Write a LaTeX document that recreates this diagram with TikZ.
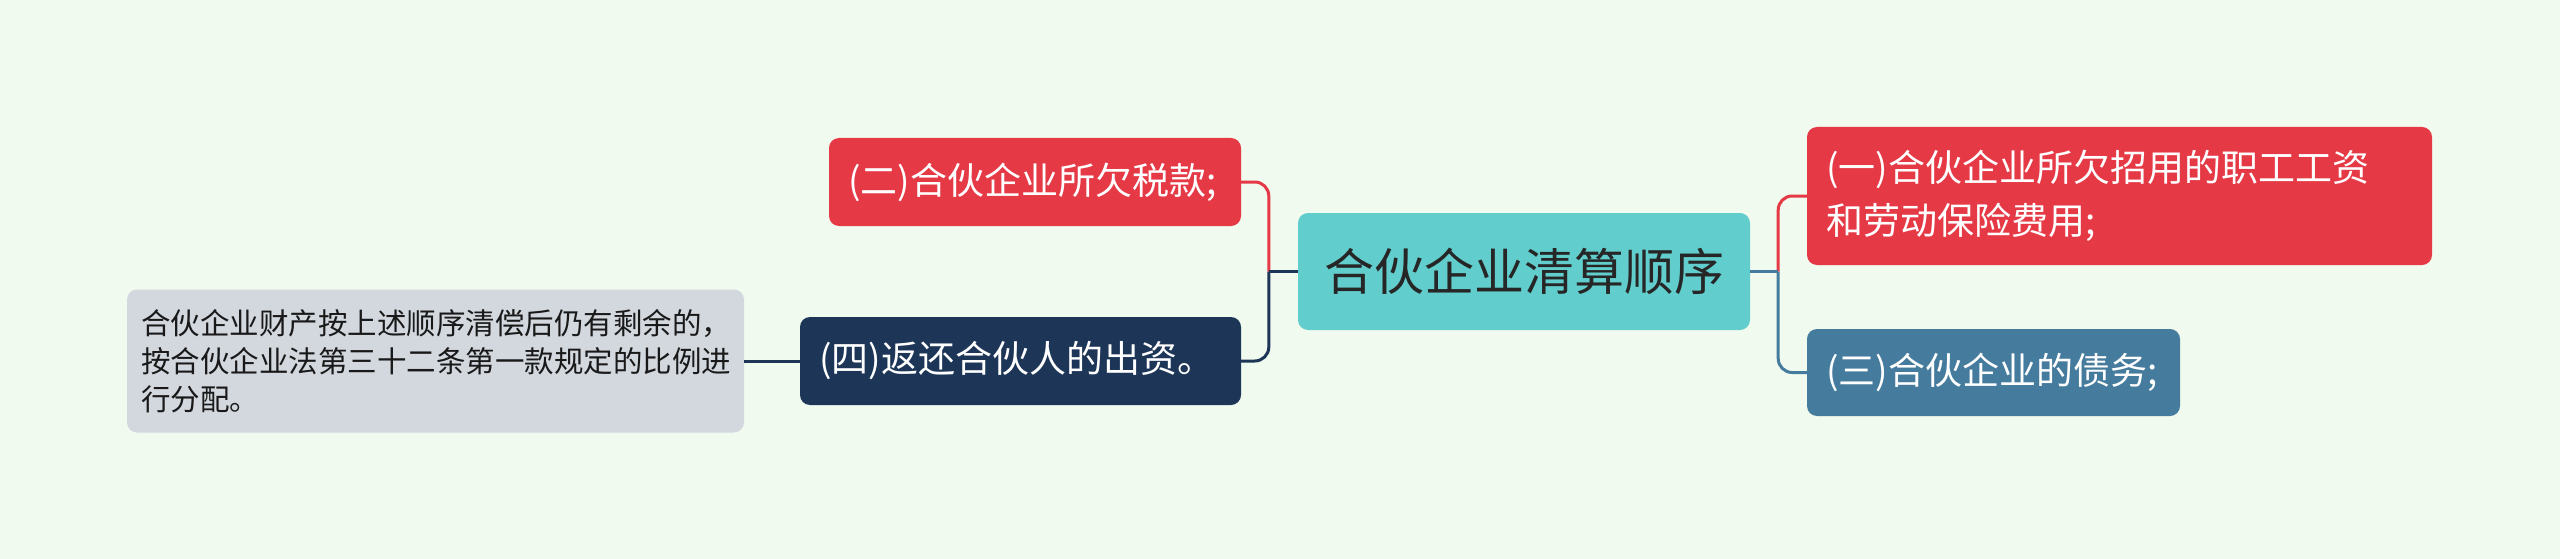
\documentclass[tikz,border=0pt]{standalone}
\usepackage{fontspec}
\setmainfont{Noto Sans CJK SC}
\definecolor{bgmint}{HTML}{F1FAEE}
\definecolor{rootteal}{HTML}{62CDCD}
\definecolor{redbox}{HTML}{E63946}
\definecolor{navybox}{HTML}{1D3557}
\definecolor{steelbox}{HTML}{457B9D}
\definecolor{notegrey}{HTML}{D3D8DF}
\begin{document}
\begin{tikzpicture}[x=1pt, y=-1pt,
  box/.style={rounded corners=10pt, inner xsep=19pt, inner ysep=0pt, align=left, anchor=center},
  topic/.style={box, fill=#1, text=white, font=\fontsize{37}{53}\selectfont, minimum height=88pt},
  link/.style={line width=3pt, rounded corners=14pt}]
  \useasboundingbox[fill=bgmint] (0,0) rectangle (2560,559);
  % Root
  \node[box, align=center, fill=rootteal, text=black!85, font=\fontsize{50}{60}\selectfont,
        text width=414pt, minimum height=117pt] (root) at (1524,271.5) {合伙企业清算顺序};
  % Right branches
  \node[topic=redbox, text width=587pt, minimum height=138pt] (wage) at (2119.5,196)
    {(一)合伙企业所欠招用的职工工资\\和劳动保险费用;};
  \node[topic=steelbox, text width=335pt, minimum height=87pt] (debt) at (1993.5,372.5)
    {(三)合伙企业的债务;};
  % Left branches
  \node[topic=redbox, text width=374pt] (tax) at (1035,182) {(二)合伙企业所欠税款;};
  \node[topic=navybox, text width=403pt] (refund) at (1020.5,361) {(四)返还合伙人的出资。};
  % Note
  \node[box, inner xsep=14pt, fill=notegrey, text=black!90, font=\fontsize{29.5}{38}\selectfont,
        text width=589pt, minimum height=143pt] (note) at (435.5,361)
    {合伙企业财产按上述顺序清偿后仍有剩余的，\\按合伙企业法第三十二条第一款规定的比例进\\行分配。};
  % Connectors
  \coordinate (lhub) at ([xshift=-29pt]root.west);
  \coordinate (rhub) at ([xshift=28pt]root.east);
  \draw[link, redbox] (tax.east) -| (lhub);
  \draw[link, navybox] (refund.east) -| (lhub);
  \draw[link, navybox] (lhub) -- (root.west);
  \draw[link, redbox] (wage.west) -| (rhub);
  \draw[link, steelbox] (debt.west) -| (rhub);
  \draw[link, steelbox] (rhub) -- (root.east);
  \draw[link, navybox] (refund.west) -- (note.east);
\end{tikzpicture}
\end{document}
